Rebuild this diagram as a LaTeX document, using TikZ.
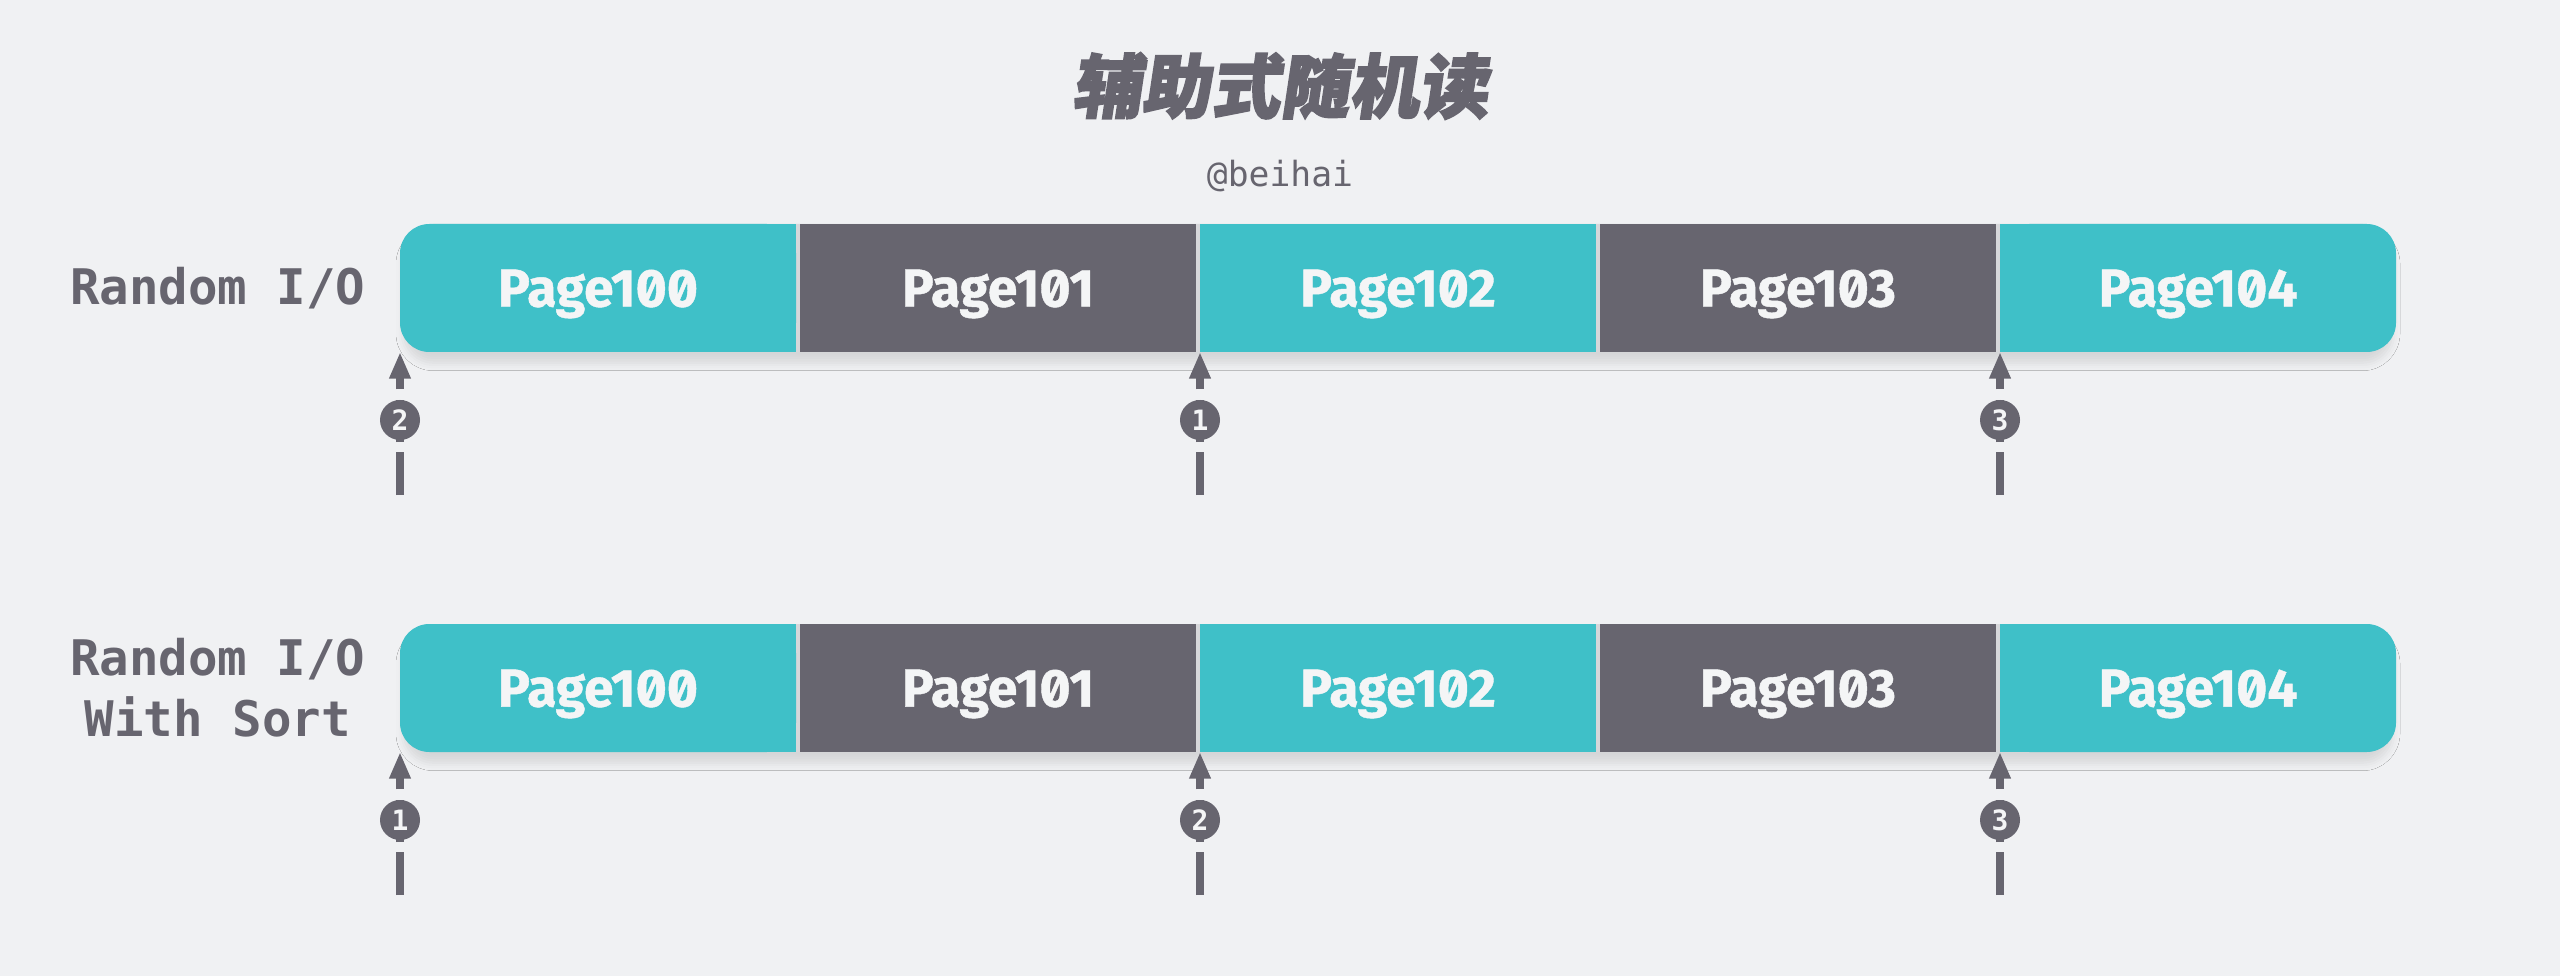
\documentclass[tikz,border=0pt]{standalone}
\usepackage{fontspec}
\usetikzlibrary{arrows.meta,shadows.blur}
\newfontfamily\cjkfont[FakeSlant=0.15,FakeBold=2.5]{Noto Sans CJK SC}
\newfontfamily\pagefont[RawFeature=+zero,FakeBold=0.8]{Fira Sans}
\newfontfamily\monofont{DejaVu Sans Mono}
\definecolor{bgc}{HTML}{F0F1F3}
\definecolor{tealc}{HTML}{3FC0C8}
\definecolor{darkc}{HTML}{67656F}
\definecolor{sepc}{HTML}{D6D7DA}
\definecolor{whitec}{HTML}{F4F5F6}
\begin{document}
\begin{tikzpicture}[x=0.375pt,y=-0.375pt,
  pagebox/.style={rectangle, minimum width=148.5pt, minimum height=48pt, inner sep=0pt, outer sep=0pt,
    text height=13.9pt, text depth=0pt,
    text=whitec, font=\pagefont\bfseries\fontsize{20}{24}\selectfont},
  lbl/.style={inner sep=0pt, text=darkc, align=center, font=\monofont\bfseries\fontsize{18.4}{23}\selectfont},
  numc/.style={circle, fill=darkc, minimum size=15pt, inner sep=0pt, text=whitec,
    font=\monofont\bfseries\fontsize{10.5}{12}\selectfont},
  ptr/.style={draw=darkc, line width=3pt, dash pattern=on 16pt off 3.8pt,
    -{Triangle[width=7.5pt,length=10pt]}}]
\useasboundingbox[fill=bgc] (0,0) rectangle (2560,976);
\node[font=\cjkfont\bfseries\fontsize{26}{30}\selectfont, text=darkc] (title) at (1280,86) {辅助式随机读};
\node[font=\monofont\fontsize{13}{15}\selectfont, text=darkc] (author) at (1280,176) {@beihai};
\node[lbl, anchor=east] (la) at (366,288) {Random I/O};
\node[lbl, anchor=east] (lb) at (366,688) {Random I/O\\With Sort};
\foreach \r/\oy/\na/\nb/\nc in {a/0/2/1/3, b/400/1/2/3} {
  \fill[sepc, rounded corners=11pt, blur shadow={shadow xshift=0pt, shadow yshift=-4pt, shadow opacity=11, shadow blur radius=3pt}]
    (404,224+\oy) rectangle (2392,352+\oy);
  \fill[tealc, rounded corners=11pt] (400,224+\oy) rectangle (796,352+\oy);
  \fill[tealc] (600,224+\oy) rectangle (796,352+\oy);
  \fill[tealc, rounded corners=11pt] (2000,224+\oy) rectangle (2396,352+\oy);
  \fill[tealc] (2000,224+\oy) rectangle (2200,352+\oy);
  \node[pagebox] (\r1) at (598,288+\oy) {Page100};
  \node[pagebox, fill=darkc] (\r2) at (998,288+\oy) {Page101};
  \node[pagebox, fill=tealc] (\r3) at (1398,288+\oy) {Page102};
  \node[pagebox, fill=darkc] (\r4) at (1798,288+\oy) {Page103};
  \node[pagebox] (\r5) at (2198,288+\oy) {Page104};
  \coordinate (\r s1) at (400,495+\oy);
  \coordinate (\r s2) at (1200,495+\oy);
  \coordinate (\r s3) at (2000,495+\oy);
  \draw[ptr] (\r s1) -- (\r1.south west);
  \draw[ptr] (\r s2) -- (\r3.south west);
  \draw[ptr] (\r s3) -- (\r5.south west);
  \node[numc] (\r n1) at (400,420+\oy) {\na};
  \node[numc] (\r n2) at (1200,420+\oy) {\nb};
  \node[numc] (\r n3) at (2000,420+\oy) {\nc};
}
\end{tikzpicture}
\end{document}
